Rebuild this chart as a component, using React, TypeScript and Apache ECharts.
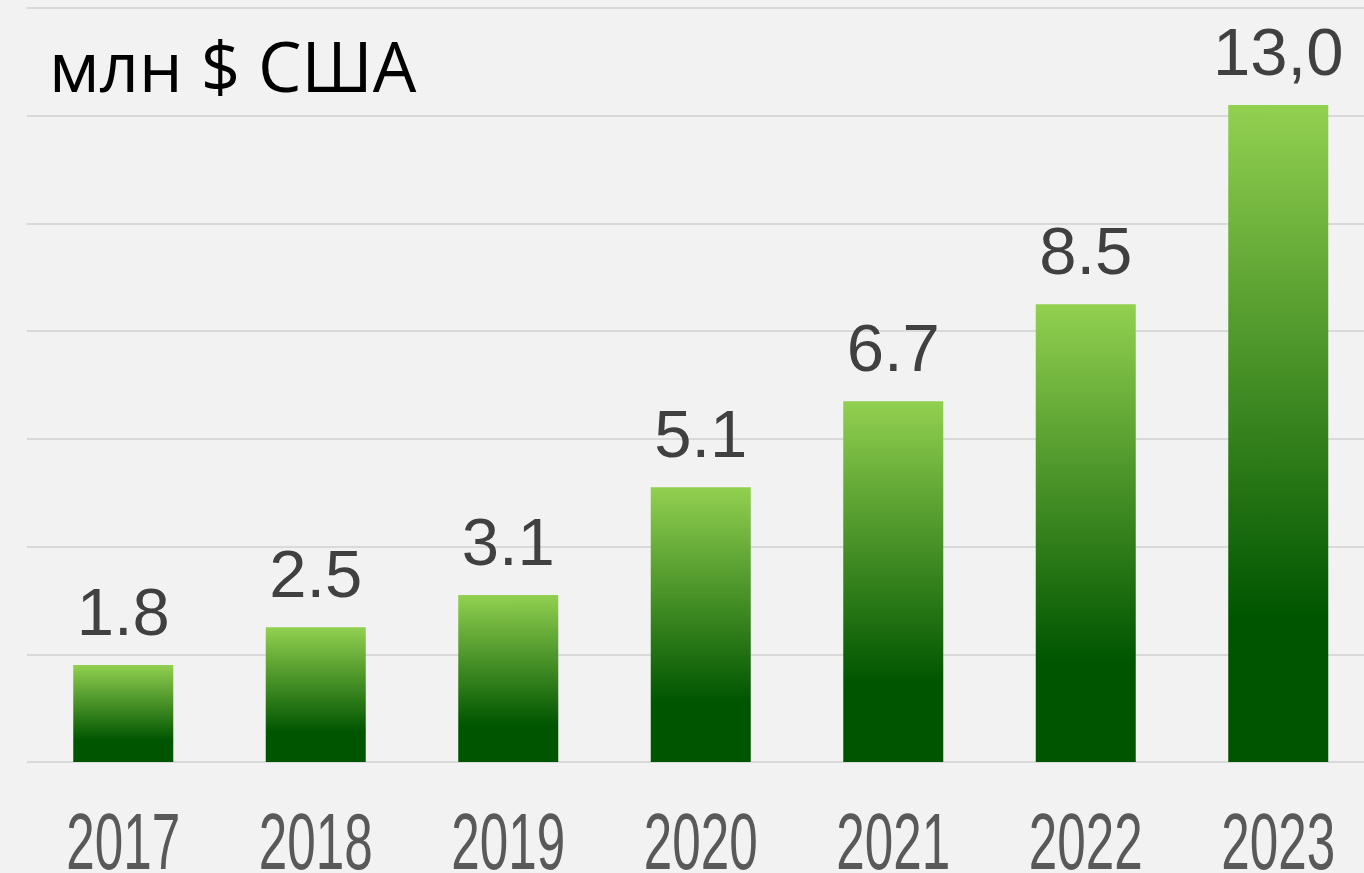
import React, { useEffect, useRef } from "react";
import * as echarts from "echarts";

const years = ["2017", "2018", "2019", "2020", "2021", "2022", "2023"];
const values = [1.8, 2.5, 3.1, 5.1, 6.7, 8.5, 12.2];
const valueLabels = ["1.8", "2.5", "3.1", "5.1", "6.7", "8.5", "13,0"];
const unitTitle = "млн $ США";

export default function App() {
  const ref = useRef<HTMLDivElement>(null);
  useEffect(() => {
    if (!ref.current) return;
    const chart = echarts.init(ref.current, null, { renderer: "svg" });
    const barGradient = new echarts.graphic.LinearGradient(0, 0, 0, 1, [
      { offset: 0, color: "#92D050" },
      { offset: 0.78, color: "#005500" },
      { offset: 1, color: "#005500" },
    ]);
    chart.setOption({
      animation: false,
      backgroundColor: "#F2F2F2",
      title: {
        text: unitTitle,
        left: 44,
        top: 25,
        textStyle: {
          fontFamily: "Open Sans",
          fontSize: 69,
          fontWeight: "normal",
          color: "#000000",
        },
      },
      grid: {
        left: 27,
        right: -10.5,
        top: 8,
        bottom: 111,
        containLabel: false,
        outerBoundsMode: "none",
      },
      xAxis: {
        type: "category",
        data: years,
        axisLine: { show: false },
        axisTick: { show: false },
        axisLabel: { show: false },
      },
      yAxis: {
        type: "value",
        min: 0,
        max: 14,
        interval: 2,
        axisLabel: { show: false },
        axisLine: { show: false },
        axisTick: { show: false },
        splitLine: { lineStyle: { color: "#D9D9D9", width: 2 } },
      },
      series: [
        {
          type: "bar",
          data: values,
          barWidth: 100,
          itemStyle: { color: barGradient },
          label: {
            show: true,
            position: "top",
            distance: 20,
            fontFamily: "'Liberation Sans', Arial, sans-serif",
            fontSize: 67,
            color: "#404040",
            formatter: (p: any) => valueLabels[p.dataIndex],
          },
        },
      ],
    });

    // Category tick labels in a condensed look, placed by the x axis scale
    const baseY = chart.convertToPixel({ yAxisIndex: 0 }, 0) as number;
    const yearLabels = years.map((y) => {
      const cx = chart.convertToPixel({ xAxisIndex: 0 }, y) as number;
      return {
        type: "text",
        x: cx,
        y: baseY + 79,
        scaleX: 0.64,
        silent: true,
        style: {
          text: y,
          x: 0,
          y: 0,
          textAlign: "center",
          textVerticalAlign: "middle",
          fontFamily: "'Liberation Sans', Arial, sans-serif",
          fontSize: 80,
          lineHeight: 58,
          fill: "#595959",
        },
      };
    });
    chart.setOption({ graphic: yearLabels });
    return () => chart.dispose();
  }, []);
  return (
    <div
      ref={ref}
      style={{ position: "absolute", left: 0, top: 0, width: 1364, height: 873 }}
    />
  );
}
